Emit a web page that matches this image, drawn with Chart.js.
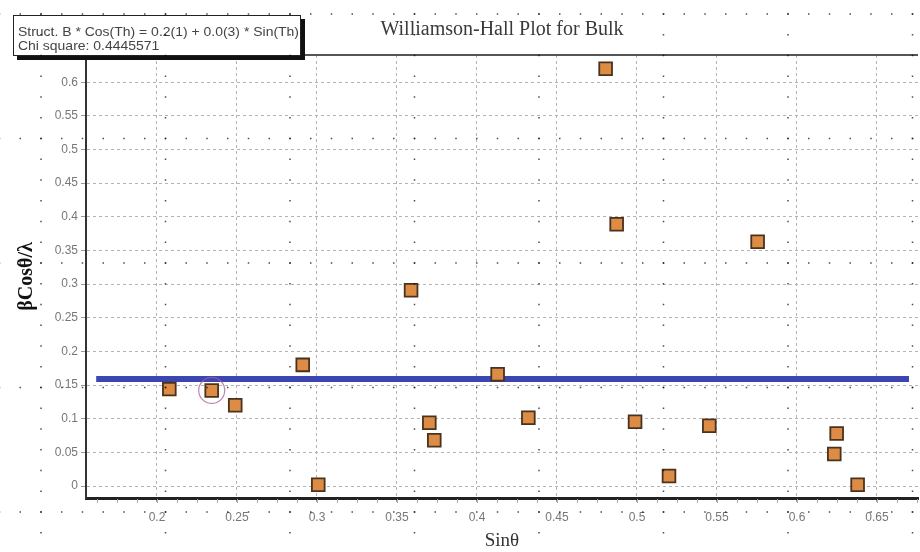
<!DOCTYPE html>
<html>
<head>
<meta charset="utf-8">
<title>Williamson-Hall Plot for Bulk</title>
<script src="https://cdn.jsdelivr.net/npm/chart.js@4.4.1/dist/chart.umd.min.js"></script>
<style>
  html, body { margin: 0; padding: 0; background: #fff; }
  #wh { display: block; }
</style>
</head>
<body>
<canvas id="wh" width="920" height="552"></canvas>
<script>
'use strict';

// measured points: Sinθ against βCosθ/λ
const sinTheta = [0.2077, 0.2342, 0.2489, 0.2911, 0.3008, 0.3588, 0.3702, 0.3733, 0.4129, 0.4321,
                  0.4804, 0.4873, 0.4988, 0.5200, 0.5452, 0.5754, 0.6233, 0.6248, 0.6379];
const betaCos  = [0.144, 0.142, 0.120, 0.180, 0.002, 0.291, 0.094, 0.068, 0.166, 0.1015,
                  0.620, 0.389, 0.0955, 0.015, 0.0896, 0.363, 0.0475, 0.078, 0.002];

// fitted line (slope ~0)
const fitX = [0.162, 0.670];
const fitY = [0.159, 0.159];

// the point picked out with a circle
const circledIndex = 1;

const xTicks = [0.2, 0.25, 0.3, 0.35, 0.4, 0.45, 0.5, 0.55, 0.6, 0.65];
const yTicks = [0, 0.05, 0.1, 0.15, 0.2, 0.25, 0.3, 0.35, 0.4, 0.45, 0.5, 0.55, 0.6];

const fitNote = [ 'Struct. B * Cos(Th) = 0.2(1) + 0.0(3) * Sin(Th)', 'Chi square: 0.4445571' ];

const points = sinTheta.map( ( x, i ) => ( { x, y: betaCos[ i ] } ) );
const fitLine = fitX.map( ( x, i ) => ( { x, y: fitY[ i ] } ) );

const tickFont = { family: '"Liberation Sans", Arial, sans-serif', size: 12 };
const serif = '"Liberation Serif", "Times New Roman", serif';
const fmt = v => String( +Number( v ).toFixed( 2 ) );

// top border, minor x ticks, the fit note box and the dotted overlay
const decorations = {
    id: 'decorations',
    afterDraw ( chart )
    {
        const { ctx, chartArea: a } = chart;
        const xs = chart.scales.x;
        ctx.save();

        ctx.strokeStyle = '#555';
        ctx.lineWidth = 2;
        ctx.beginPath();
        ctx.moveTo( a.left, a.top );
        ctx.lineTo( a.right, a.top );
        ctx.stroke();

        ctx.strokeStyle = '#aaa';
        ctx.lineWidth = 1;
        for ( let k = 0; k < 60; k++ )
        {
            const v = 0.15 + k * 0.0125;
            if ( v < xs.min || v > xs.max ) continue;
            const px = Math.round( xs.getPixelForValue( v ) ) + 0.5;
            ctx.beginPath();
            ctx.moveTo( px, a.bottom + 1 );
            ctx.lineTo( px, a.bottom + 5 );
            ctx.stroke();
        }

        // note box with a hard shadow
        const bx = 13, by = 15, bw = 288, bh = 41;
        ctx.fillStyle = '#111';
        ctx.fillRect( bx + 4, by + 4, bw, bh );
        ctx.fillStyle = '#fff';
        ctx.fillRect( bx, by, bw, bh );
        ctx.strokeStyle = '#222';
        ctx.lineWidth = 1;
        ctx.strokeRect( bx + 0.5, by + 0.5, bw - 1, bh - 1 );
        ctx.fillStyle = '#444';
        ctx.font = '13px "Liberation Sans", Arial, sans-serif';
        ctx.textBaseline = 'middle';
        const sx = 281 / ctx.measureText( fitNote[ 0 ] ).width;
        fitNote.forEach( ( line, i ) =>
        {
            ctx.save();
            ctx.translate( 18, 32 + i * 14 );
            ctx.scale( sx, 1 );
            ctx.fillText( line, 0, 0 );
            ctx.restore();
        } );

        // scanned-page dot lattice
        ctx.fillStyle = 'rgba(0,0,0,0.7)';
        const step = 20.75, major = 124.5, ox = 41, oy = 14;
        for ( let r = 0; r < 5; r++ )
        {
            const y = oy + r * major;
            for ( let k = -2; k < 46; k++ ) ctx.fillRect( ox + k * step - 0.75, y - 0.75, 1.5, 1.5 );
        }
        for ( let c = 0; c < 8; c++ )
        {
            const x = ox + c * major;
            for ( let k = 0; k < 27; k++ ) ctx.fillRect( x - 0.75, oy + k * step - 0.75, 1.5, 1.5 );
        }
        ctx.restore();
    }
};

new Chart( document.getElementById( 'wh' ), {
    type: 'scatter',
    data: {
        datasets: [
            {
                type: 'line',
                data: fitLine,
                borderColor: '#3c46b2',
                borderWidth: 6,
                pointRadius: 0,
                fill: false,
                order: 3
            },
            {
                data: [ points[ circledIndex ] ],
                pointStyle: 'circle',
                pointRadius: 13,
                backgroundColor: 'rgba(0,0,0,0)',
                borderColor: 'rgba(165,95,150,0.75)',
                borderWidth: 1.2,
                order: 2
            },
            {
                data: points,
                pointStyle: 'rect',
                pointRadius: 9,
                backgroundColor: '#dc8c45',
                borderColor: '#4a321e',
                borderWidth: 1.8,
                order: 1
            }
        ]
    },
    options: {
        responsive: false,
        animation: false,
        devicePixelRatio: 1,
        layout: { autoPadding: false, padding: { top: 0, right: 2, bottom: 0, left: 0 } },
        plugins: {
            legend: { display: false },
            tooltip: { enabled: false },
            title: {
                display: true,
                fullSize: false,
                text: 'Williamson-Hall Plot for Bulk',
                color: '#3a3a3a',
                font: { family: serif, size: 20, weight: 'normal', lineHeight: 1.2 },
                padding: { top: 18, bottom: 13 }
            }
        },
        scales: {
            x: {
                type: 'linear',
                position: 'bottom',
                min: 0.15563,
                max: 0.67563,
                afterBuildTicks: s => { s.ticks = xTicks.map( value => ( { value } ) ); },
                afterFit: s => { s.height = 54; s.paddingLeft = 0; s.paddingRight = 0; },
                grid: {
                    color: '#b4b4b4',
                    lineWidth: 1,
                    drawTicks: true,
                    tickLength: 4,
                    tickColor: '#999',
                    tickBorderDash: []
                },
                border: { display: true, color: '#222', width: 3, dash: [ 3, 3 ] },
                ticks: { color: '#777', font: tickFont, padding: 8, maxRotation: 0, callback: fmt },
                title: {
                    display: true,
                    text: 'Sinθ',
                    color: '#333',
                    font: { family: serif, size: 19, lineHeight: 1.2 },
                    padding: { top: 0, bottom: 0 }
                }
            },
            y: {
                type: 'linear',
                min: -0.0178,
                max: 0.6404,
                afterBuildTicks: s => { s.ticks = yTicks.map( value => ( { value } ) ); },
                afterFit: s => { s.width = 86; s.paddingTop = 0; s.paddingBottom = 0; },
                grid: {
                    color: '#b4b4b4',
                    lineWidth: 1,
                    drawTicks: true,
                    tickLength: 5,
                    tickColor: '#999',
                    tickBorderDash: []
                },
                border: { display: true, color: '#333', width: 2, dash: [ 3, 3 ] },
                ticks: { color: '#777', font: tickFont, padding: 3, callback: fmt },
                title: {
                    display: true,
                    text: 'βCosθ/λ',
                    color: '#111',
                    font: { family: serif, size: 20, weight: 'bold', lineHeight: 1.2 },
                    padding: { top: 15, bottom: 0 }
                }
            }
        }
    },
    plugins: [ decorations ]
} );
</script>
</body>
</html>
